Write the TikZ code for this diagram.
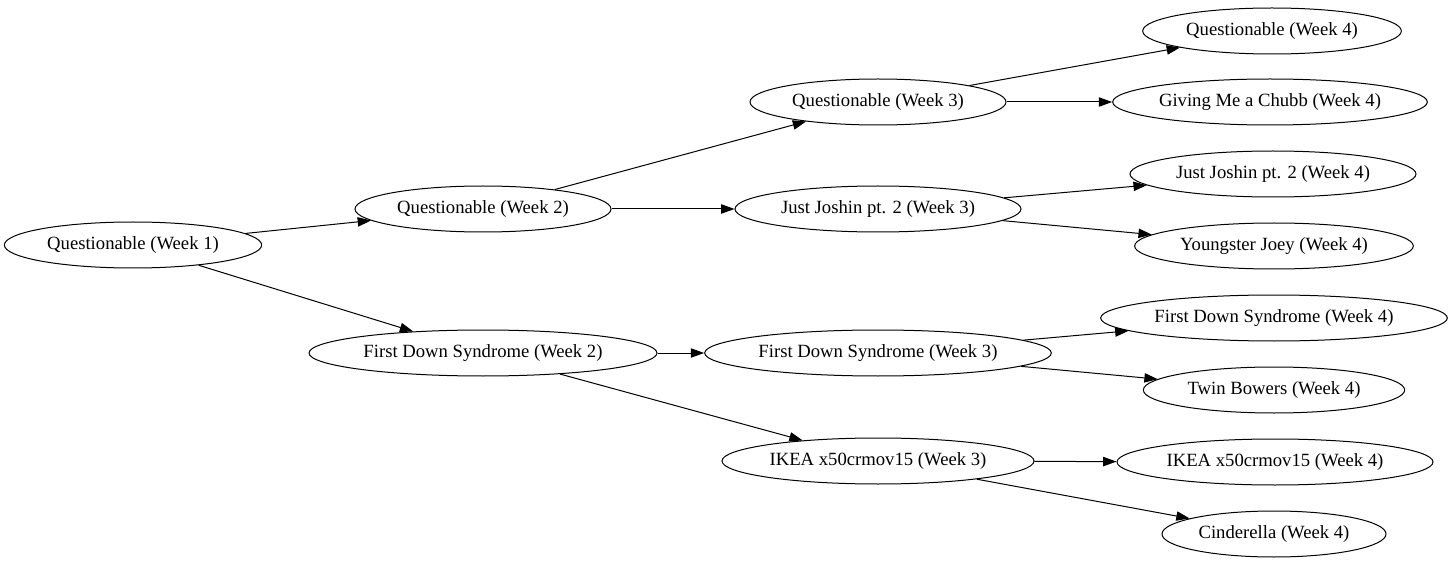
\documentclass[tikz,border=0pt]{standalone}
\usepackage{fontspec}
\setmainfont{Liberation Serif}
\usetikzlibrary{shapes}
\usetikzlibrary{arrows.meta}

\begin{document}
\begin{tikzpicture}[x=0.75pt,y=-0.75pt,
                    every node/.style={draw,ellipse,inner sep=0pt,minimum height=34.5pt,font=\fontsize{14}{16}\selectfont},
                    >={Triangle[length=10pt,width=7pt]}, line width=0.75pt]
                  \useasboundingbox (0,0) rectangle (1454,563);
                  \node[minimum width=193pt] (q1) at (133,245) {Questionable (Week 1)};
                  \node[minimum width=192pt] (q2) at (483,209) {Questionable (Week 2)};
                  \node[minimum width=261pt] (fds2) at (483,353) {First Down Syndrome (Week 2)};
                  \node[minimum width=192pt] (q3) at (878,102) {Questionable (Week 3)};
                  \node[minimum width=214.5pt] (jj3) at (878,209) {Just Joshin pt. 2 (Week 3)};
                  \node[minimum width=260pt] (fds3) at (878,353) {First Down Syndrome (Week 3)};
                  \node[minimum width=234pt] (ikea3) at (878,461) {IKEA x50crmov15 (Week 3)};
                  \node[minimum width=194pt] (q4) at (1272,31) {Questionable (Week 4)};
                  \node[minimum width=236pt] (gmc4) at (1270,102) {Giving Me a Chubb (Week 4)};
                  \node[minimum width=214.5pt] (jj4) at (1273,174) {Just Joshin pt. 2 (Week 4)};
                  \node[minimum width=209pt] (yj4) at (1274,246) {Youngster Joey (Week 4)};
                  \node[minimum width=260pt] (fds4) at (1274,318) {First Down Syndrome (Week 4)};
                  \node[minimum width=196pt] (tb4) at (1274,390) {Twin Bowers (Week 4)};
                  \node[minimum width=237pt] (ikea4) at (1275,462) {IKEA x50crmov15 (Week 4)};
                  \node[minimum width=168pt] (cin4) at (1274,534) {Cinderella (Week 4)};
                  \draw[->] (q1) -- (q2);
                  \draw[->] (q1) -- (fds2);
                  \draw[->] (q2) -- (q3);
                  \draw[->] (q2) -- (jj3);
                  \draw[->] (fds2) -- (fds3);
                  \draw[->] (fds2) -- (ikea3);
                  \draw[->] (q3) -- (q4);
                  \draw[->] (q3) -- (gmc4);
                  \draw[->] (jj3) -- (jj4);
                  \draw[->] (jj3) -- (yj4);
                  \draw[->] (fds3) -- (fds4);
                  \draw[->] (fds3) -- (tb4);
                  \draw[->] (ikea3) -- (ikea4);
                  \draw[->] (ikea3) -- (cin4);
              \end{tikzpicture}
\end{document}
